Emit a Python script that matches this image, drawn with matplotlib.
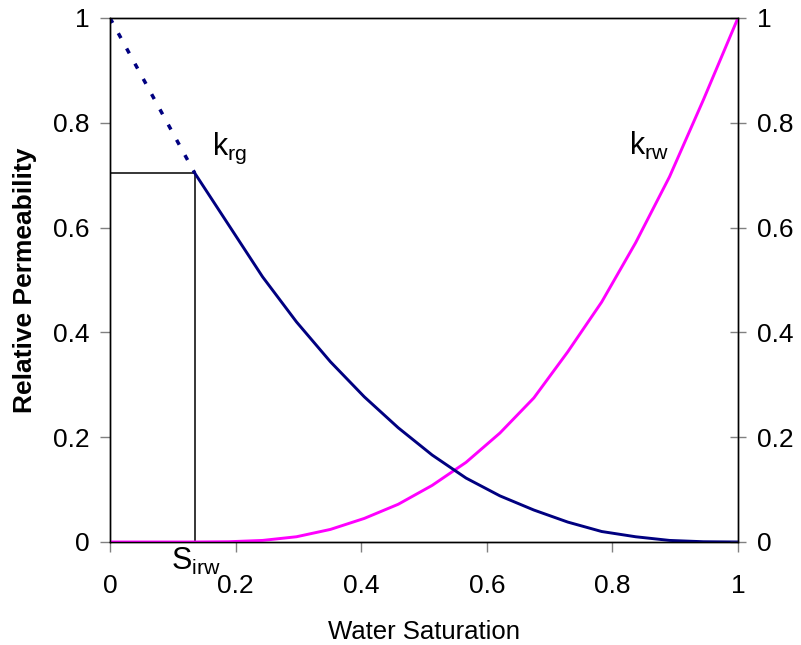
import matplotlib
matplotlib.use("Agg")
import matplotlib.pyplot as plt

plt.rcParams['font.family'] = ['Liberation Sans', 'DejaVu Sans']
plt.rcParams['mathtext.fontset'] = 'custom'
plt.rcParams['mathtext.rm'] = 'Liberation Sans'
plt.rcParams['mathtext.it'] = 'Liberation Sans'

# irreducible water saturation and gas rel perm at that point
s_irw = 0.135
krg_max = 0.704

# water saturation grid from S_irw to 1
sw = [0.135, 0.189, 0.243, 0.297, 0.351, 0.405, 0.459, 0.513, 0.567,
      0.621, 0.675, 0.729, 0.783, 0.837, 0.891, 0.945, 1.0]
krg = [0.704, 0.605, 0.506, 0.420, 0.344, 0.277, 0.218, 0.166, 0.122,
       0.088, 0.061, 0.038, 0.020, 0.010, 0.003, 0.0005, 0.0]
krw = [0.0, 0.0005, 0.003, 0.010, 0.024, 0.045, 0.072, 0.108, 0.152,
       0.208, 0.275, 0.363, 0.458, 0.571, 0.697, 0.844, 1.0]

# extrapolated gas curve below S_irw
sw_ext = [0.0, 0.135]
krg_ext = [1.0, 0.704]

ticks = [0, 0.2, 0.4, 0.6, 0.8, 1]
tick_labels = ['0', '0.2', '0.4', '0.6', '0.8', '1']

fig = plt.figure(figsize=(8.01, 6.45), dpi=100)
ax = fig.add_axes([0.1373, 0.1597, 0.784, 0.8124])

ax.plot([0, s_irw, s_irw], [krg_max, krg_max, 0], color='black', lw=1.1, zorder=2)
ax.plot([0, s_irw] + sw[1:], [0, 0] + krw[1:], color='#ff00ff', lw=2.1, zorder=3)
ax.plot(sw, krg, color='#000080', lw=2.1, zorder=3)
ax.plot(sw_ext, krg_ext, color='#000080', lw=2.5, linestyle=(0, (1.6, 3.4)), zorder=3)

ax.set_xlim(0, 1)
ax.set_ylim(0, 1)
ax.set_xticks(ticks)
ax.set_xticklabels(tick_labels)
ax.set_yticks(ticks)
ax.set_yticklabels(tick_labels)
ax.tick_params(direction='out', length=7, width=1, color='#808080', labelsize=19)
ax.tick_params(axis='x', pad=16)
ax.tick_params(axis='y', pad=8)

ax2 = ax.twinx()
ax2.set_ylim(0, 1)
ax2.set_yticks(ticks)
ax2.set_yticklabels(tick_labels)
ax2.tick_params(direction='inout', length=12, width=1, color='#808080',
                labelsize=19, pad=8)

for a in (ax, ax2):
    for s in a.spines.values():
        s.set_linewidth(1.0)

ax.set_xlabel('Water Saturation', fontsize=18.5, labelpad=16)
ax.set_ylabel('Relative Permeability', fontsize=19, fontweight='bold', labelpad=11)

ax.text(0.162, 0.739, r'$\mathrm{k}_{\mathrm{rg}}$', fontsize=22, va='baseline')
ax.text(0.826, 0.739, r'$\mathrm{k}_{\mathrm{rw}}$', fontsize=22, va='baseline')
ax.text(0.097, -0.054, r'$\mathrm{S}_{\mathrm{irw}}$', fontsize=22, va='baseline',
        clip_on=False)

fig.savefig('out.png', dpi=100)
